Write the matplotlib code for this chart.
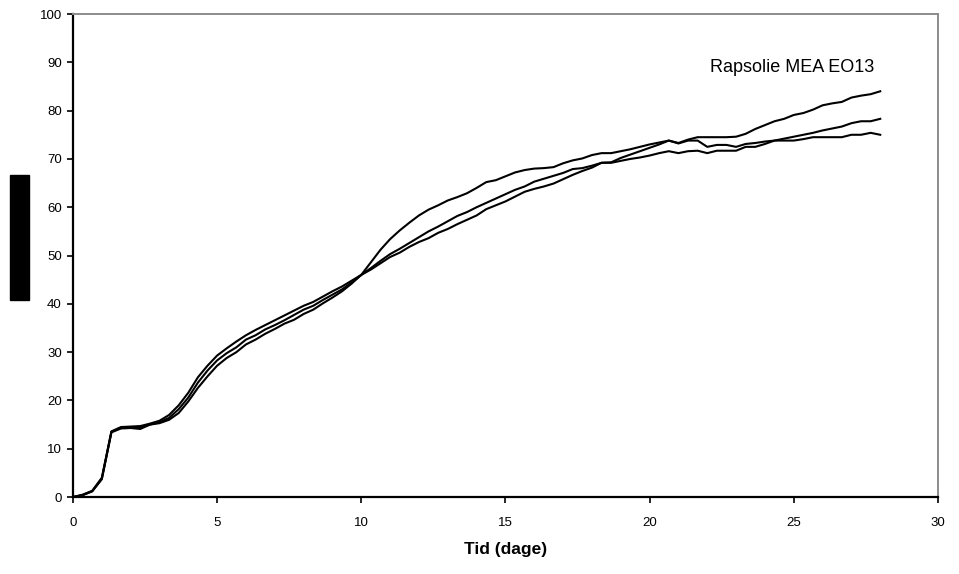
import numpy as np
from matplotlib import pyplot as plt
from matplotlib.patches import Rectangle

# time in days, one reading every 8 hours
tid = [k / 3.0 for k in range(85)]

serie_a = [0, 0.4, 1.2, 3.8, 13.4, 14.2, 14.3, 14.1, 15.0, 15.3,
           16.0, 17.4, 19.8, 22.6, 25.0, 27.2, 28.8, 30.0, 31.6, 32.6,
           33.8, 34.8, 35.9, 36.7, 37.9, 38.8, 40.1, 41.3, 42.6, 44.2,
           46.0, 48.6, 51.2, 53.4, 55.2, 56.8, 58.3, 59.5, 60.4, 61.4,
           62.1, 62.9, 64.0, 65.2, 65.6, 66.4, 67.2, 67.7, 68.0, 68.1,
           68.3, 69.1, 69.7, 70.1, 70.8, 71.2, 71.2, 71.6, 72.0, 72.5,
           73.0, 73.4, 73.8, 73.3, 74.0, 74.5, 74.5, 74.5, 74.5, 74.6,
           75.2, 76.2, 77.0, 77.8, 78.3, 79.1, 79.5, 80.2, 81.1, 81.5,
           81.8, 82.7, 83.1, 83.4, 84.0]

serie_b = [0, 0.5, 1.3, 4.0, 13.6, 14.5, 14.6, 14.7, 15.2, 15.8,
           17.0, 19.0, 21.6, 24.8, 27.2, 29.3, 30.8, 32.2, 33.5, 34.6,
           35.6, 36.6, 37.6, 38.6, 39.6, 40.4, 41.5, 42.6, 43.6, 44.8,
           46.0, 47.1, 48.4, 49.7, 50.6, 51.8, 52.8, 53.6, 54.7, 55.5,
           56.5, 57.4, 58.3, 59.6, 60.4, 61.2, 62.2, 63.2, 63.8, 64.3,
           64.9, 65.8, 66.7, 67.5, 68.2, 69.2, 69.3, 70.2, 70.9, 71.6,
           72.3, 73.0, 73.8, 73.2, 73.8, 73.8, 72.5, 72.9, 72.9, 72.5,
           73.1, 73.3, 73.6, 73.8, 74.2, 74.6, 75.0, 75.4, 75.9, 76.3,
           76.7, 77.4, 77.8, 77.8, 78.3]

serie_c = [0, 0.4, 1.2, 3.7, 13.5, 14.4, 14.5, 14.5, 15.0, 15.5,
           16.4, 18.2, 20.6, 23.7, 26.2, 28.3, 29.8, 31.0, 32.6, 33.5,
           34.7, 35.6, 36.6, 37.7, 38.8, 39.6, 40.8, 41.9, 43.0, 44.4,
           46.0, 47.4, 48.9, 50.3, 51.4, 52.6, 53.8, 55.0, 56.0, 57.1,
           58.2, 59.0, 60.0, 60.9, 61.8, 62.7, 63.6, 64.3, 65.3, 65.9,
           66.5, 67.1, 67.9, 68.1, 68.6, 69.2, 69.2, 69.6, 70.0, 70.3,
           70.7, 71.2, 71.6, 71.2, 71.6, 71.7, 71.2, 71.7, 71.7, 71.7,
           72.5, 72.5, 73.1, 73.8, 73.8, 73.8, 74.1, 74.5, 74.5, 74.5,
           74.5, 75.0, 75.0, 75.4, 75.0]

x_ticks = np.arange(0, 31, 5)
y_ticks = np.arange(0, 101, 10)

plt.rcParams['font.family'] = ['Liberation Sans', 'DejaVu Sans']

fig = plt.figure(figsize=(9.59, 5.74), dpi=100)
ax = fig.add_axes([0.0761, 0.134, 0.9019, 0.8416])

for serie in (serie_a, serie_b, serie_c):
    ax.plot(tid, serie, color='black', linewidth=1.5)

ax.set_xlim(0, 30)
ax.set_ylim(0, 100)
ax.set_xticks(x_ticks)
ax.set_yticks(y_ticks)
ax.tick_params(axis='both', labelsize=9.5, direction='out', length=4, width=1.2)
ax.tick_params(axis='x', pad=10)
ax.tick_params(axis='y', pad=4)

for side in ('left', 'bottom'):
    ax.spines[side].set_color('black')
    ax.spines[side].set_linewidth(1.6)
for side in ('top', 'right'):
    ax.spines[side].set_color('#8c8c8c')
    ax.spines[side].set_linewidth(1.4)

ax.text(27.8, 89, 'Rapsolie MEA EO13', ha='right', va='center', fontsize=13)
ax.set_xlabel('Tid (dage)', fontsize=12.5, fontweight='bold', labelpad=10)

# blacked-out y axis label
fig.patches.append(Rectangle((10 / 959, 274 / 574), 19 / 959, 125 / 574,
                             transform=fig.transFigure, color='black'))

plt.savefig('out.png', dpi=100)
